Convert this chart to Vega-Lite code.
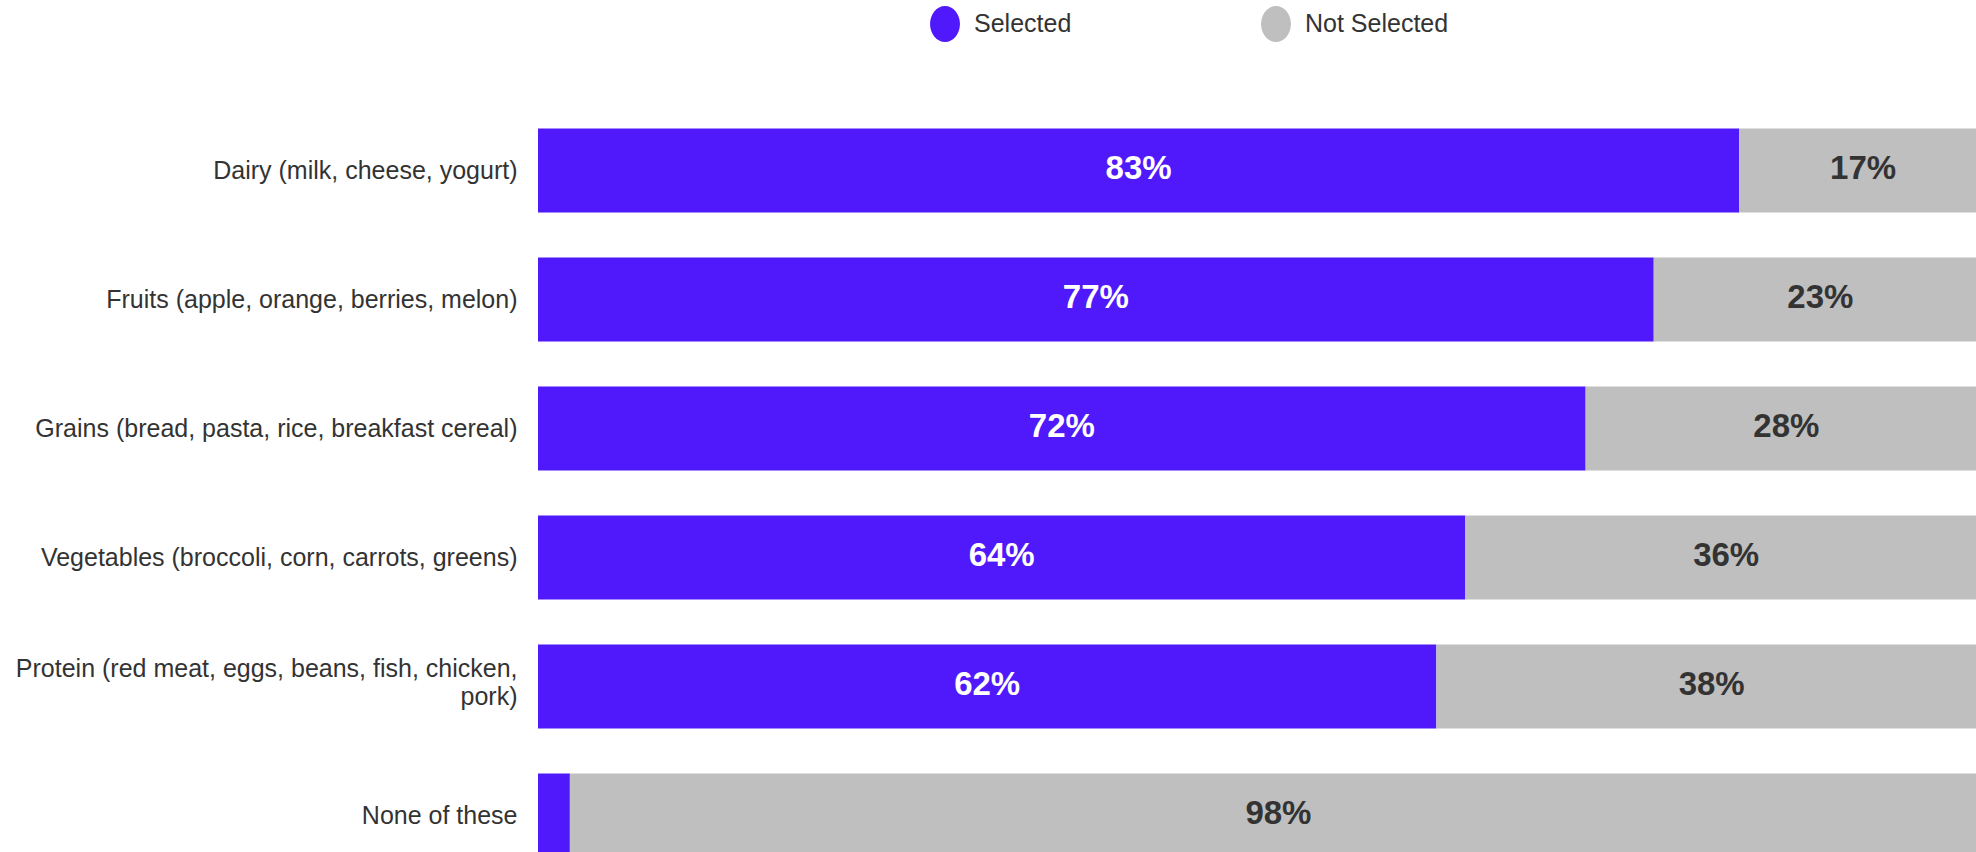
{
  "$schema": "https://vega.github.io/schema/vega-lite/v6.json",
  "autosize": {"type": "none"},
  "padding": {"left": 538, "top": 106, "right": 0, "bottom": 0},
  "width": 1438,
  "height": 746,
  "background": "white",
  "config": {
    "view": {"stroke": null},
    "font": "Liberation Sans"
  },
  "data": {
    "values": [
      {"category": "Dairy (milk, cheese, yogurt)", "response": "Selected", "value": 0.829},
      {"category": "Dairy (milk, cheese, yogurt)", "response": "Not Selected", "value": 0.171},
      {"category": "Fruits (apple, orange, berries, melon)", "response": "Selected", "value": 0.770},
      {"category": "Fruits (apple, orange, berries, melon)", "response": "Not Selected", "value": 0.230},
      {"category": "Grains (bread, pasta, rice, breakfast cereal)", "response": "Selected", "value": 0.723},
      {"category": "Grains (bread, pasta, rice, breakfast cereal)", "response": "Not Selected", "value": 0.277},
      {"category": "Vegetables (broccoli, corn, carrots, greens)", "response": "Selected", "value": 0.640},
      {"category": "Vegetables (broccoli, corn, carrots, greens)", "response": "Not Selected", "value": 0.360},
      {"category": "Protein (red meat, eggs, beans, fish, chicken, pork)", "response": "Selected", "value": 0.620},
      {"category": "Protein (red meat, eggs, beans, fish, chicken, pork)", "response": "Not Selected", "value": 0.380},
      {"category": "None of these", "response": "Selected", "value": 0.022},
      {"category": "None of these", "response": "Not Selected", "value": 0.978}
    ]
  },
  "transform": [
    {"stack": "value", "groupby": ["category"], "sort": [{"field": "response", "order": "descending"}], "as": ["v0", "v1"]}
  ],
  "encoding": {
    "y": {
      "field": "category",
      "type": "nominal",
      "sort": null,
      "scale": {"range": [0, 774], "paddingInner": 0.349, "paddingOuter": 0.1745},
      "axis": {
        "title": null,
        "domain": false,
        "ticks": false,
        "labelFontSize": 25,
        "labelColor": "#333333",
        "labelFont": "Liberation Sans",
        "labelPadding": 21,
        "labelLimit": 0,
        "labelLineHeight": 28,
        "labelOffset": {"condition": {"test": "indexof(datum.value, 'chicken, pork') >= 0", "value": -18}, "value": 0},
        "labelExpr": "indexof(datum.label, 'chicken, pork') >= 0 ? ['Protein (red meat, eggs, beans, fish, chicken,', 'pork)'] : datum.label"
      }
    }
  },
  "layer": [
    {
      "mark": {"type": "bar", "clip": true},
      "encoding": {
        "x": {"field": "v0", "type": "quantitative", "scale": {"domain": [0, 1], "range": [0, 1449]}, "axis": null},
        "x2": {"field": "v1"},
        "color": {
          "field": "response",
          "type": "nominal",
          "scale": {"domain": ["Selected", "Not Selected"], "range": ["#4f19fb", "#bfbfbf"]},
          "legend": {
            "title": null,
            "orient": "none",
            "legendX": 389,
            "legendY": -100,
            "direction": "horizontal",
            "padding": 0,
            "symbolType": "M-0.83,0A0.83,1 0 1,1 0.83,0A0.83,1 0 1,1 -0.83,0Z",
            "symbolSize": 1296,
            "symbolStrokeWidth": 0,
            "symbolOpacity": 1,
            "labelFontSize": 25,
            "labelFont": "Liberation Sans",
            "labelColor": "#333333",
            "labelOffset": 11,
            "columnPadding": 186
          }
        }
      }
    },
    {
      "transform": [
        {"filter": "datum.value >= 0.05"},
        {"fold": ["v0", "v1"], "as": ["edge", "pos"]},
        {"aggregate": [{"op": "mean", "field": "pos", "as": "mid"}], "groupby": ["category", "response", "value"]}
      ],
      "mark": {"type": "text", "fontSize": 33, "fontWeight": "bold", "font": "Liberation Sans", "align": "center", "baseline": "middle", "dy": -2, "clip": true},
      "encoding": {
        "x": {"field": "mid", "type": "quantitative"},
        "text": {"field": "value", "type": "quantitative", "format": ".0%"},
        "color": {
          "condition": {"test": "datum.response == 'Selected'", "value": "#ffffff"},
          "value": "#333333"
        }
      }
    }
  ]
}
